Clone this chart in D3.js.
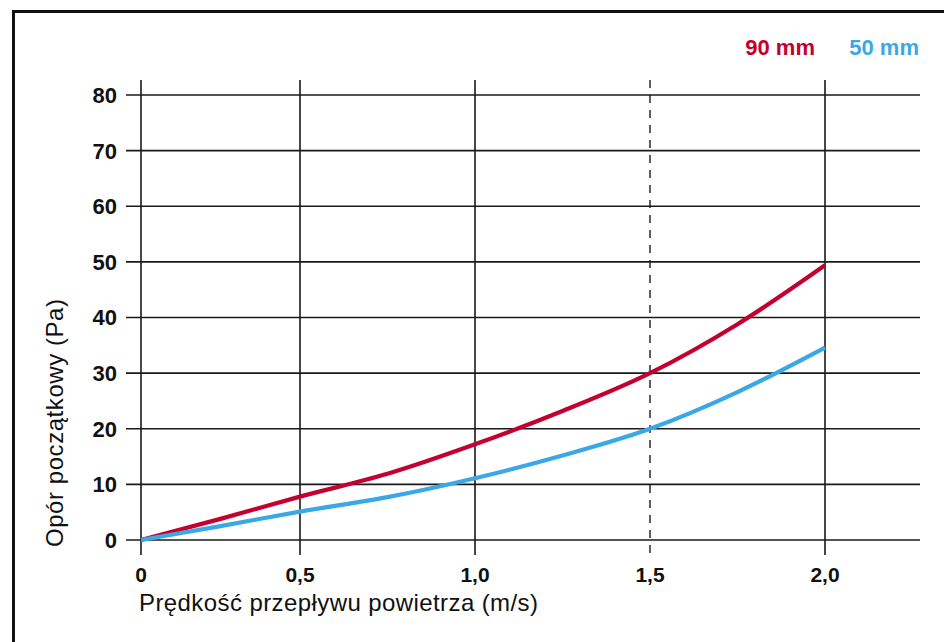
<!DOCTYPE html>
<html>
<head>
<meta charset="utf-8">
<script src="https://cdn.jsdelivr.net/npm/d3@7"></script>
<style>
  html, body { margin: 0; padding: 0; background: #fff; }
  svg { display: block; font-family: "Liberation Sans", Arial, sans-serif; }
  .grid { stroke: #1a1a1a; stroke-width: 1.6; }
  .tick-y { font-size: 22px; font-weight: bold; fill: #111; }
  .tick-x { font-size: 21px; font-weight: bold; fill: #111; }
  .title { font-size: 24px; fill: #111; }
  .legend { font-size: 22px; font-weight: bold; }
  .line { fill: none; stroke-width: 4.2; }
</style>
</head>
<body>
<svg id="chart" width="944" height="642"></svg>
<script>
(function() {
  'use strict';

  // air speed (m/s) and initial resistance (Pa)
  const speeds = [0, 0.25, 0.5, 0.75, 1.0, 1.25, 1.5, 1.75, 2.0];
  const pa90 = [0, 3.8, 7.8, 11.9, 17.2, 23.2, 30.0, 38.8, 49.4];
  const pa50 = [0, 2.5, 5.1, 7.7, 11.1, 15.2, 20.0, 26.6, 34.6];

  const xTicks = [0, 0.5, 1.0, 1.5, 2.0];
  const xTickLabels = ['0', '0,5', '1,0', '1,5', '2,0'];
  const yTicks = [0, 10, 20, 30, 40, 50, 60, 70, 80];
  const seriesNames = ['90 mm', '50 mm'];
  const seriesColors = ['#c4002f', '#3aa8e6'];

  const left = 141, right = 920, top = 95, bottom = 540;

  // the first half-step on the original axis is a bit shorter than the rest
  const x = d3.scaleLinear()
    .domain([0, 0.5, 2.0])
    .range([left, 300, 825]);

  const y = d3.scaleLinear()
    .domain([0, 80])
    .range([bottom, top]);

  const svg = d3.select('#chart');

  // outer frame
  svg.append('rect')
    .attr('x', 13.5)
    .attr('y', 11.5)
    .attr('width', 1000)
    .attr('height', 700)
    .attr('fill', 'none')
    .attr('stroke', '#111')
    .attr('stroke-width', 3);

  // horizontal grid
  svg.selectAll('.h-line')
    .data(yTicks)
    .enter()
    .append('line')
      .attr('class', 'grid h-line')
      .attr('x1', left - 15)
      .attr('x2', right)
      .attr('y1', d => y(d))
      .attr('y2', d => y(d));

  // vertical grid, dashed at 1,5
  svg.selectAll('.v-line')
    .data(xTicks)
    .enter()
    .append('line')
      .attr('class', 'grid v-line')
      .attr('x1', d => x(d))
      .attr('x2', d => x(d))
      .attr('y1', top - 15)
      .attr('y2', bottom + 15)
      .attr('stroke-dasharray', d => d === 1.5 ? '8,7' : null)
      .style('stroke-width', d => d === 1.5 ? 1.4 : null);

  svg.selectAll('.tick-y')
    .data(yTicks)
    .enter()
    .append('text')
      .attr('class', 'tick-y')
      .attr('text-anchor', 'end')
      .attr('x', 117)
      .attr('y', d => y(d))
      .attr('dy', '0.36em')
      .text(d => d);

  svg.selectAll('.tick-x')
    .data(xTicks)
    .enter()
    .append('text')
      .attr('class', 'tick-x')
      .attr('text-anchor', 'middle')
      .attr('x', d => x(d))
      .attr('y', 582)
      .text((d, i) => xTickLabels[i]);

  svg.append('text')
    .attr('class', 'title')
    .attr('x', 139)
    .attr('y', 611)
    .attr('textLength', 399)
    .attr('lengthAdjust', 'spacing')
    .text('Prędkość przepływu powietrza (m/s)');

  svg.append('text')
    .attr('class', 'title')
    .attr('transform', 'translate(63,547) rotate(-90)')
    .attr('textLength', 248)
    .attr('lengthAdjust', 'spacing')
    .text('Opór początkowy (Pa)');

  const line = d3.line()
    .x((d, i) => x(speeds[i]))
    .y(d => y(d))
    .curve(d3.curveMonotoneX);

  [pa90, pa50].forEach((values, i) => {
    svg.append('path')
      .datum(values)
      .attr('class', 'line')
      .attr('stroke', seriesColors[i])
      .attr('d', line);
  });

  // legend, top right
  svg.append('text')
    .attr('class', 'legend')
    .attr('x', 815)
    .attr('y', 55)
    .attr('text-anchor', 'end')
    .attr('fill', seriesColors[0])
    .text(seriesNames[0]);

  svg.append('text')
    .attr('class', 'legend')
    .attr('x', 919)
    .attr('y', 55)
    .attr('text-anchor', 'end')
    .attr('fill', seriesColors[1])
    .text(seriesNames[1]);
})();
</script>
</body>
</html>
